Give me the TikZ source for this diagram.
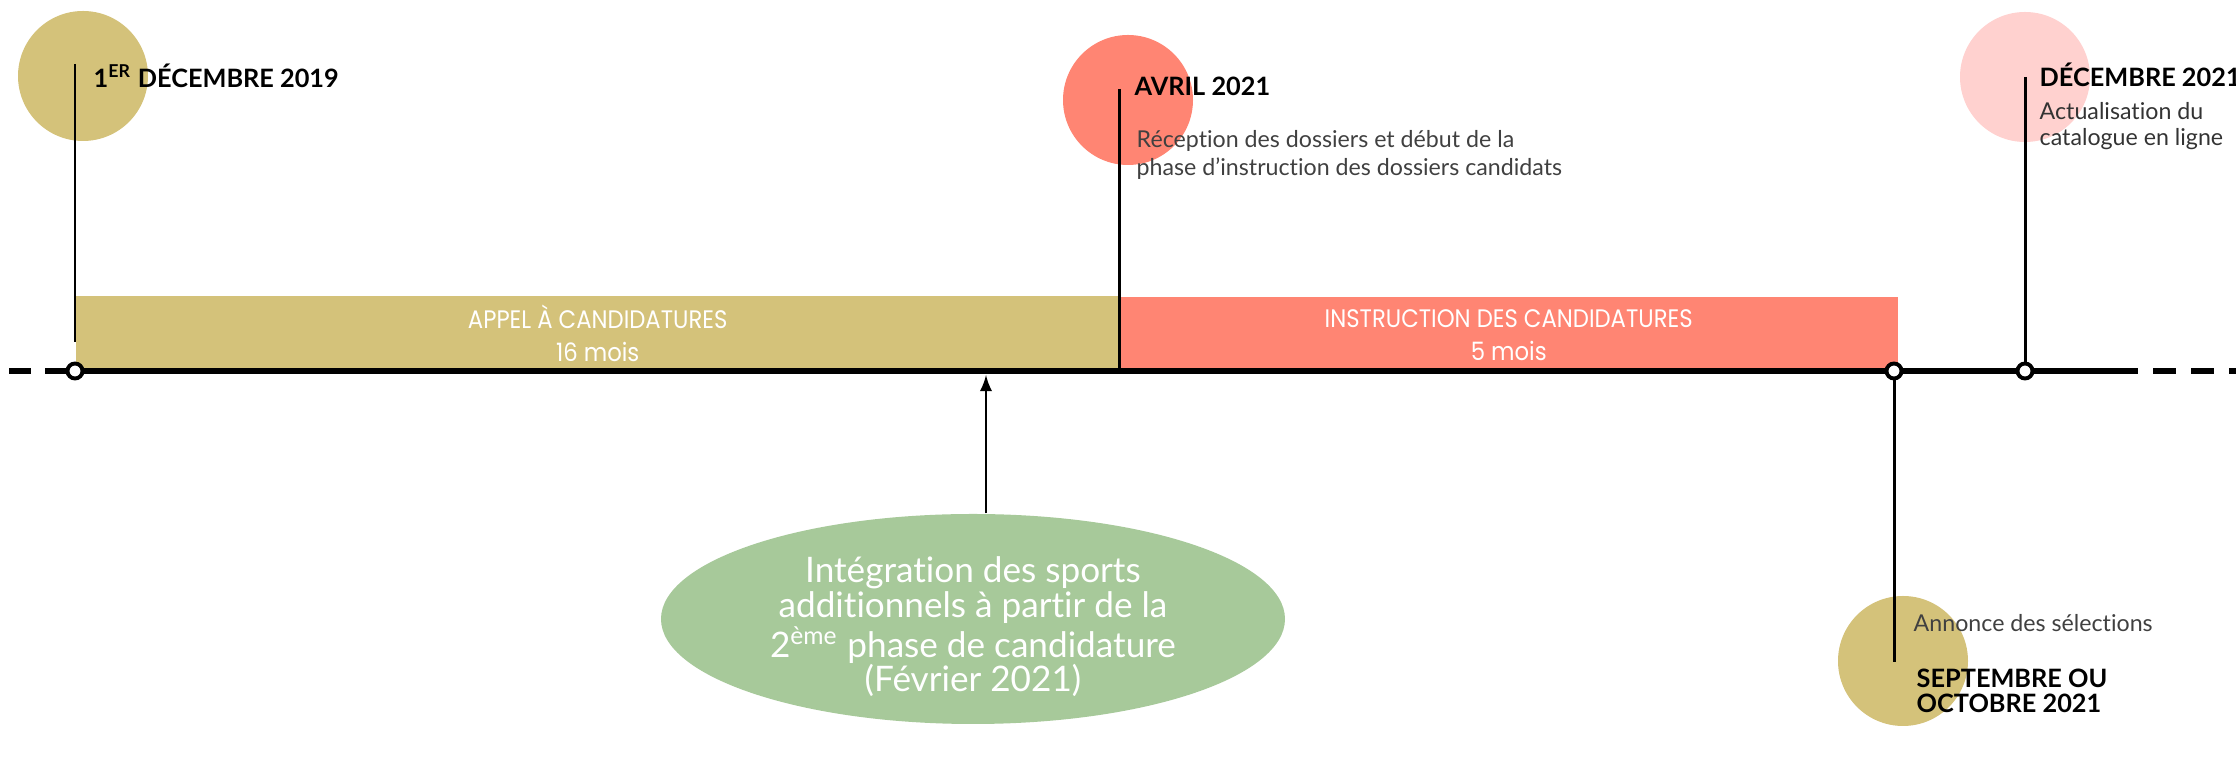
\documentclass[tikz,border=0pt]{standalone}
\usepackage{fontspec}
\setmainfont[Ligatures=NoCommon]{Lato}
\newfontfamily\barfont[FakeStretch=0.9]{Poppins}
\usetikzlibrary{shapes.geometric}
\usetikzlibrary{arrows.meta}

\definecolor{gold}{HTML}{D4C27A}
\definecolor{salmon}{HTML}{FF8573}
\definecolor{rose}{HTML}{FFD1CF}
\definecolor{sage}{HTML}{A7C99A}
\definecolor{txtgray}{HTML}{404040}

\begin{document}
\begin{tikzpicture}[>=latex,
        blob/.style={circle,minimum size=1.3cm,inner sep=0pt},
        tick/.style={circle,draw=black,fill=white,line width=1.1pt,minimum size=0.15cm,inner sep=0pt},
        bar/.style={anchor=south west,inner sep=0pt,text=white,align=center,
            font=\barfont\fontsize{7.2}{9.4}\selectfont},
        datelbl/.style={anchor=west,inner sep=0pt,align=left,
            font=\bfseries\fontsize{7.2}{7.1}\selectfont},
        desclbl/.style={anchor=west,inner sep=0pt,align=left,text=txtgray,
            font=\fontsize{6.6}{8}\selectfont},
        stem/.style={line width=0.85pt},
        axis/.style={line width=1.7pt}]
        \useasboundingbox (0,-4.09) rectangle (22.36,3.71);
        % coloured discs behind the dates
        \node[blob,fill=gold] (b2019) at (0.83,2.95) {};
        \node[blob,fill=salmon] (b2104) at (11.28,2.71) {};
        \node[blob,fill=rose] (b2112) at (20.25,2.94) {};
        \node[blob,fill=gold] (b2109) at (19.03,-2.90) {};
        % phases
        \node[bar,fill=gold,minimum width=10.44cm,minimum height=0.74cm] (appel) at (0.75,0) {APPEL À CANDIDATURES\\16 mois};
        \node[bar,fill=salmon,minimum width=7.78cm,minimum height=0.75cm] (instr) at (11.19,-0.02) {INSTRUCTION DES CANDIDATURES\\5 mois};
        % axis
        \coordinate (t0) at (0.75,0);
        \coordinate (t1) at (18.94,0);
        \coordinate (t2) at (20.25,0);
        \coordinate (split) at (11.19,0);
        \coordinate (feb) at (9.86,-0.04);
        \coordinate (lend) at (0,0);
        \coordinate (rsolid) at (21.38,0);
        \coordinate (rdash) at (21.53,0);
        \coordinate (rend) at (22.36,0);
        \draw[axis,dash pattern=on 0.3cm off 0.14cm on 0.22cm off 1cm](t0)--(lend);
        \draw[axis](t0)--(t1)--(t2)--(rsolid);
        \draw[axis,dash pattern=on 0.23cm off 0.15cm](rdash)--(rend);
        % stems
        \coordinate (top0) at (0.75,3.07);
        \coordinate (foot0) at (0.75,0.29);
        \coordinate (top1) at (11.19,2.82);
        \coordinate (top2) at (20.25,2.94);
        \coordinate (bot1) at (18.94,-2.91);
        \draw[stem](top0)--(foot0);
        \draw[stem](top1)--(split);
        \draw[stem](top2)--(t2);
        \draw[stem](t1)--(bot1);
        \node[tick] (k0) at (t0) {};
        \node[tick] (k1) at (t1) {};
        \node[tick] (k2) at (t2) {};
        % dates and texts
        \node[datelbl] (d2019) at (0.93,2.95) {1\textsuperscript{ER} DÉCEMBRE 2019};
        \node[datelbl] (d2104) at (11.34,2.85) {AVRIL 2021};
        \node[desclbl] (r2104) at (11.36,2.16) {Réception des dossiers et début de la\\phase d’instruction des dossiers candidats};
        \node[datelbl] (d2112) at (20.39,2.96) {DÉCEMBRE 2021};
        \node[desclbl,text=black!80,font=\fontsize{6.6}{7.4}\selectfont] (r2112) at (20.39,2.45) {Actualisation du\\catalogue en ligne};
        \node[desclbl] (r2109) at (19.13,-2.52) {Annonce des sélections};
        \node[datelbl] (d2109) at (19.16,-3.195) {SEPTEMBRE OU\\OCTOBRE 2021};
        % sports
        \node[ellipse,fill=sage,minimum width=6.24cm,minimum height=2.1cm,inner sep=0pt] (sports) at (9.73,-2.48) {};
        \node[text=white,align=center,inner sep=0pt,font=\fontsize{10}{9.8}\selectfont] (sportstxt) at ([yshift=-0.08cm]sports.center)
            {Intégration des sports\\additionnels à partir de la\\2\textsuperscript{ème} phase de candidature\\(Février 2021)};
        \draw[->,line width=0.6pt](sports.north -| feb)--(feb);
\end{tikzpicture}
\end{document}
